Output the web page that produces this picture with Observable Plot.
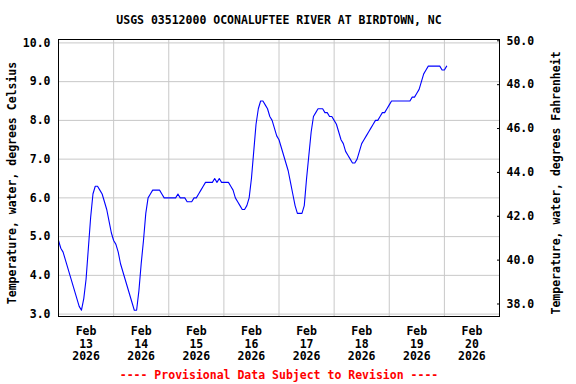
<!DOCTYPE html>
<html>
<head>
<meta charset="utf-8">
<script src="https://cdn.jsdelivr.net/npm/d3@7"></script>
<script src="https://cdn.jsdelivr.net/npm/@observablehq/plot@0.6"></script>
<style>
  html, body { margin: 0; padding: 0; background: #fff; }
</style>
</head>
<body>
<div id="chart"></div>
<script>
// ---- Data ----
const title = "USGS 03512000 OCONALUFTEE RIVER AT BIRDTOWN, NC";
const footer = "---- Provisional Data Subject to Revision ----";
const yLabelLeft = "Temperature, water, degrees Celsius";
const yLabelRight = "Temperature, water, degrees Fahrenheit";

// Hourly readings starting Feb 13 2026 00:00, degrees Celsius
const startUTC = Date.UTC(2026, 1, 13, 0, 0);
const tempC = [
  4.9, 4.7, 4.6, 4.4, 4.2, 4.0, 3.8, 3.6, 3.4, 3.2, 3.1, 3.4,   // 0-11
  3.9, 4.7, 5.5, 6.1, 6.3, 6.3, 6.2, 6.1, 5.9, 5.7, 5.4, 5.1,   // 12-23
  4.9, 4.8, 4.6, 4.3, 4.1, 3.9, 3.7, 3.5, 3.3, 3.1, 3.1, 3.6,   // 24-35
  4.3, 4.9, 5.6, 6.0, 6.1, 6.2, 6.2, 6.2, 6.2, 6.1, 6.0, 6.0,   // 36-47
  6.0, 6.0, 6.0, 6.0, 6.1, 6.0, 6.0, 6.0, 5.9, 5.9, 5.9, 6.0,   // 48-59
  6.0, 6.1, 6.2, 6.3, 6.4, 6.4, 6.4, 6.4, 6.5, 6.4, 6.5, 6.4,   // 60-71
  6.4, 6.4, 6.4, 6.3, 6.2, 6.0, 5.9, 5.8, 5.7, 5.7, 5.8, 6.0,   // 72-83
  6.5, 7.2, 7.9, 8.3, 8.5, 8.5, 8.4, 8.3, 8.1, 8.0, 7.8, 7.6,   // 84-95
  7.5, 7.3, 7.1, 6.9, 6.7, 6.4, 6.1, 5.8, 5.6, 5.6, 5.6, 5.8,   // 96-107
  6.5, 7.1, 7.7, 8.1, 8.2, 8.3, 8.3, 8.3, 8.2, 8.2, 8.1, 8.1,   // 108-119
  8.0, 7.9, 7.7, 7.5, 7.4, 7.2, 7.1, 7.0, 6.9, 6.9, 7.0, 7.2,   // 120-131
  7.4, 7.5, 7.6, 7.7, 7.8, 7.9, 8.0, 8.0, 8.1, 8.2, 8.2, 8.3,   // 132-143
  8.4, 8.5, 8.5, 8.5, 8.5, 8.5, 8.5, 8.5, 8.5, 8.5, 8.6, 8.6,   // 144-155
  8.7, 8.8, 9.0, 9.2, 9.3, 9.4, 9.4, 9.4, 9.4, 9.4, 9.4, 9.3,   // 156-167
  9.3, 9.4                                                       // 168-169
];

// Axis ticks and domains
const celsiusTicks = [3.0, 4.0, 5.0, 6.0, 7.0, 8.0, 9.0, 10.0];
const fahrenheitTicks = [38.0, 40.0, 42.0, 44.0, 46.0, 48.0, 50.0];
const celsiusDomain = [2.938, 10.088];
const fahrenheitDomain = [37.43, 50.06];
const tickMonth = "Feb";
const tickYear = "2026";
const tickDays = [13, 14, 15, 16, 17, 18, 19, 20];
const gridDays = [14, 15, 16, 17, 18, 19, 20];
const xDomain = [new Date(Date.UTC(2026, 1, 13)), new Date(Date.UTC(2026, 1, 21))];

// Build table
const data = tempC.map((v, i) => ({ time: new Date(startUTC + i * 3600e3), value: v }));
const dayNoon = tickDays.map(d => new Date(Date.UTC(2026, 1, d, 12)));
const dayMidnight = gridDays.map(d => new Date(Date.UTC(2026, 1, d)));
// map the right-axis (F) values onto the left (C) position scale
const fToC = f => celsiusDomain[0] + (f - fahrenheitDomain[0]) / (fahrenheitDomain[1] - fahrenheitDomain[0]) * (celsiusDomain[1] - celsiusDomain[0]);
const fPos = fahrenheitTicks.map(fToC);

const font = "'DejaVu Sans Mono', 'Liberation Mono', monospace";
const gridColor = "#c8c8c8";

const chart = Plot.plot({
  width: 576,
  height: 384,
  marginLeft: 58,
  marginRight: 77,
  marginTop: 39,
  marginBottom: 68,
  style: { fontFamily: font, fontWeight: "bold", fontSize: "11.5px", background: "#fff", color: "#000" },
  x: { type: "utc", domain: xDomain },
  y: { domain: celsiusDomain },
  marks: [
    Plot.gridY(celsiusTicks, { stroke: gridColor, strokeOpacity: 1, strokeWidth: 1 }),
    Plot.gridX(dayMidnight, { stroke: gridColor, strokeOpacity: 1, strokeWidth: 1 }),
    Plot.line(data, { x: "time", y: "value", stroke: "#0000ff", strokeWidth: 1.1 }),
    Plot.frame({ stroke: "#000", strokeWidth: 1 }),
    Plot.axisY(celsiusTicks, {
      anchor: "left", tickSize: 0, tickPadding: 8, label: null,
      tickFormat: d => d.toFixed(1), fontSize: 11.5
    }),
    Plot.axisY(fPos, {
      anchor: "right", tickSize: -3, tickPadding: 10, label: null,
      tickFormat: (d, i) => fahrenheitTicks[i].toFixed(1), fontSize: 11.5
    }),
    Plot.axisX(dayNoon, {
      anchor: "bottom", tickSize: 0, tickPadding: 9, label: null, lineHeight: 1.12,
      tickFormat: (d, i) => `${tickMonth}\n${tickDays[i]}\n${tickYear}`, fontSize: 11.5
    }),
    Plot.text([title], { frameAnchor: "top", lineAnchor: "middle", dy: -19, fontSize: 11.5, fontWeight: "bold", fill: "#000" }),
    Plot.text([footer], { frameAnchor: "bottom", lineAnchor: "middle", dy: 59, fontSize: 11.5, fontWeight: "bold", fill: "#ff0000" }),
    Plot.text([yLabelLeft], { frameAnchor: "left", rotate: -90, textAnchor: "middle", lineAnchor: "middle", dx: -46, dy: 5, fontSize: 11.5, fontWeight: "bold", fill: "#000" }),
    Plot.text([yLabelRight], { frameAnchor: "right", rotate: -90, textAnchor: "middle", lineAnchor: "middle", dx: 57, dy: 5, fontSize: 11.5, fontWeight: "bold", fill: "#000" })
  ]
});
document.getElementById("chart").appendChild(chart);
</script>
</body>
</html>
